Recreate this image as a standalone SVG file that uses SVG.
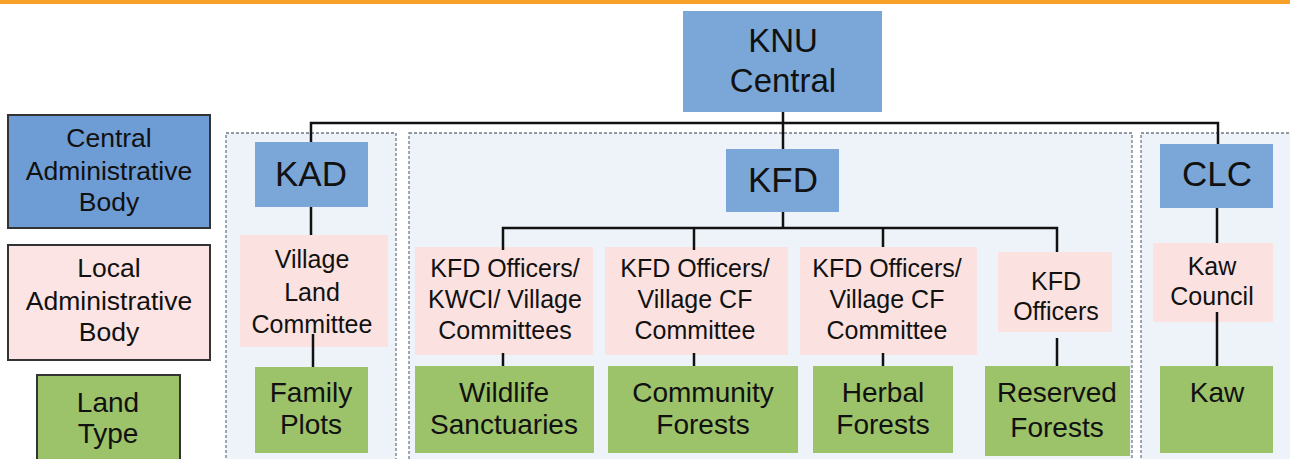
<svg xmlns="http://www.w3.org/2000/svg" width="1290" height="459" viewBox="0 0 1290 459">
<style>
text{font-family:"Liberation Sans",Arial,sans-serif;fill:#111;text-anchor:middle}
.panel{fill:#eef3fa;stroke:#6f7a88;stroke-width:1.3;stroke-dasharray:3 2}
.blue{fill:#7ba6d8}
.lblue{fill:#6e9cd4;stroke:#333;stroke-width:2}
.lpink{fill:#fbe4e3;stroke:#333;stroke-width:2}
.lgreen{fill:#9cc26a;stroke:#333;stroke-width:2}
.pink{fill:#fbe2e0}
.green{fill:#9cc26a}
.big{font-size:35px}
.knu{font-size:33px}
.mid{font-size:25px}
.grn{font-size:28px}
.leg{font-size:26.5px}
.conn{fill:none;stroke:#111;stroke-width:2.5}
</style>
<rect x="0" y="0" width="1290" height="4" fill="#f7a128"/>
<g id="panels">
<rect class="panel" x="226" y="133" width="170" height="340"/>
<rect class="panel" x="409" y="133" width="723" height="340"/>
<rect class="panel" x="1141" y="133" width="160" height="340"/>
</g>
<g id="legend-central"><rect class="lblue" x="8" y="115" width="202" height="113"/>
<text class="leg" x="109" y="147">Central</text><text class="leg" x="109" y="180">Administrative</text><text class="leg" x="109" y="211">Body</text></g>
<g id="legend-local"><rect class="lpink" x="8" y="245" width="202" height="115"/>
<text class="leg" x="109" y="277">Local</text><text class="leg" x="109" y="310">Administrative</text><text class="leg" x="109" y="341">Body</text></g>
<g id="legend-land"><rect class="lgreen" x="37" y="375" width="143" height="100"/>
<text class="grn" x="108" y="412">Land</text><text class="grn" x="108" y="443">Type</text></g>
<g id="knu"><rect class="blue" x="683" y="11" width="199" height="101"/>
<text class="knu" x="783" y="52">KNU</text><text class="knu" x="783" y="92">Central</text></g>
<g id="kad"><rect class="blue" x="255" y="142" width="113" height="65"/><text class="big" x="311" y="186">KAD</text></g>
<g id="kfd"><rect class="blue" x="726" y="149" width="113" height="63"/><text class="big" x="783" y="192">KFD</text></g>
<g id="clc"><rect class="blue" x="1160" y="144" width="113" height="64"/><text class="big" x="1217" y="186">CLC</text></g>
<g id="vlc"><rect class="pink" x="240" y="235" width="148" height="112"/>
<text class="mid" x="312" y="268">Village</text><text class="mid" x="312" y="301">Land</text><text class="mid" x="312" y="333">Committee</text></g>
<g id="kfd-kwci"><rect class="pink" x="415" y="247" width="178" height="108"/>
<text class="mid" x="505" y="277">KFD Officers/</text><text class="mid" x="505" y="308">KWCI/ Village</text><text class="mid" x="505" y="339">Committees</text></g>
<g id="kfd-cf1"><rect class="pink" x="605" y="247" width="183" height="108"/>
<text class="mid" x="695" y="277">KFD Officers/</text><text class="mid" x="695" y="308">Village CF</text><text class="mid" x="695" y="339">Committee</text></g>
<g id="kfd-cf2"><rect class="pink" x="800" y="247" width="177" height="108"/>
<text class="mid" x="887" y="277">KFD Officers/</text><text class="mid" x="887" y="308">Village CF</text><text class="mid" x="887" y="339">Committee</text></g>
<g id="kfd-off"><rect class="pink" x="998" y="252" width="114" height="80"/>
<text class="mid" x="1056" y="290">KFD</text><text class="mid" x="1056" y="320">Officers</text></g>
<g id="kaw-council"><rect class="pink" x="1153" y="243" width="120" height="79"/>
<text class="mid" x="1212" y="275">Kaw</text><text class="mid" x="1212" y="305">Council</text></g>
<g id="family"><rect class="green" x="255" y="367" width="113" height="86"/>
<text class="grn" x="311" y="402">Family</text><text class="grn" x="311" y="434">Plots</text></g>
<g id="wildlife"><rect class="green" x="415" y="366" width="179" height="87"/>
<text class="grn" x="504" y="402">Wildlife</text><text class="grn" x="504" y="434">Sanctuaries</text></g>
<g id="community"><rect class="green" x="608" y="366" width="190" height="87"/>
<text class="grn" x="703" y="402">Community</text><text class="grn" x="703" y="434">Forests</text></g>
<g id="herbal"><rect class="green" x="813" y="366" width="140" height="87"/>
<text class="grn" x="883" y="402">Herbal</text><text class="grn" x="883" y="434">Forests</text></g>
<g id="reserved"><rect class="green" x="985" y="366" width="145" height="90"/>
<text class="grn" x="1057" y="402">Reserved</text><text class="grn" x="1057" y="437">Forests</text></g>
<g id="kaw"><rect class="green" x="1160" y="366" width="113" height="87"/>
<text class="grn" x="1217" y="402">Kaw</text></g>
<g id="connectors">
<path class="conn" d="M783 112V149M311 142V123H1218V144"/>
<path class="conn" d="M311 207V235M313 334V367"/>
<path class="conn" d="M783 212V228M503 250V228H1057V252M694 228V250M883 228V247"/>
<path class="conn" d="M503 353V366M694 353V366M883 353V366M1057 338V366"/>
<path class="conn" d="M1217 208V243M1217 312V366"/>
</g>
</svg>
